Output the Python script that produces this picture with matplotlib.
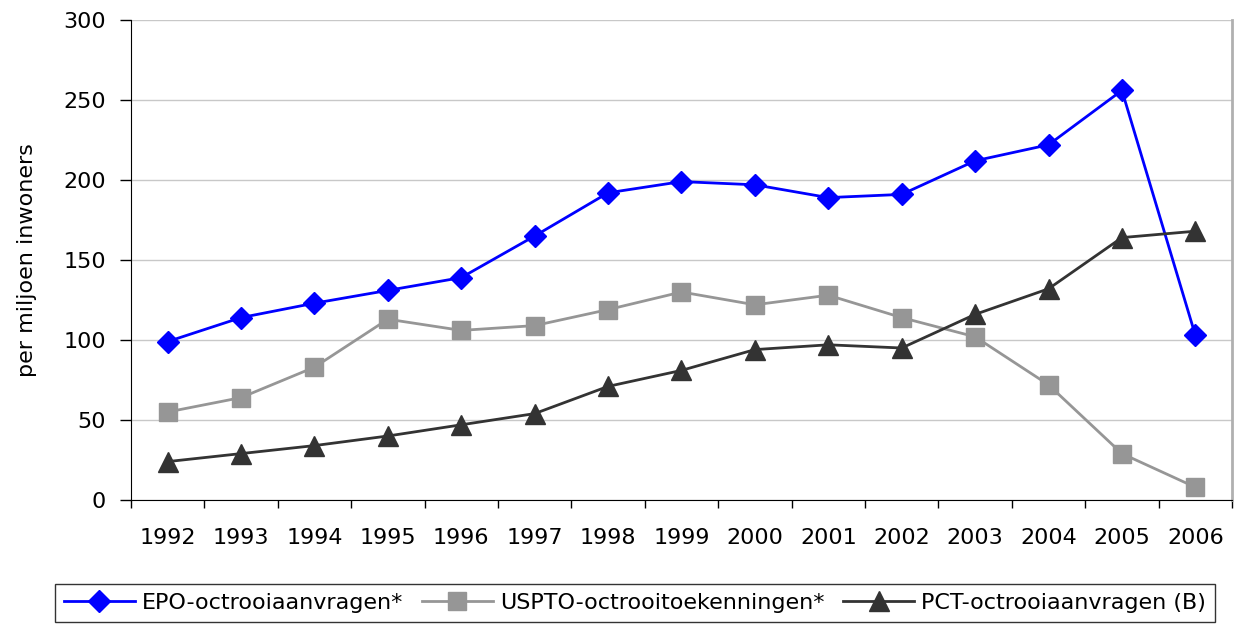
import numpy as np
from matplotlib import pyplot as plt

# Data
years = ['1992', '1993', '1994', '1995', '1996', '1997', '1998', '1999',
         '2000', '2001', '2002', '2003', '2004', '2005', '2006']
epo = [99, 114, 123, 131, 139, 165, 192, 199, 197, 189, 191, 212, 222, 256, 103]
uspto = [55, 64, 83, 113, 106, 109, 119, 130, 122, 128, 114, 102, 72, 29, 8]
pct = [24, 29, 34, 40, 47, 54, 71, 81, 94, 97, 95, 116, 132, 164, 168]

plt.rcParams['font.family'] = 'DejaVu Sans'
plt.rcParams['font.size'] = 16

fig = plt.figure(figsize=(12.35, 6.25), dpi=100)
ax = fig.add_axes([0.106, 0.2, 0.8916, 0.768])

x = np.arange(len(years))
ax.plot(x, epo, color='#0000ff', lw=2, marker='D', ms=11, label='EPO-octrooiaanvragen*')
ax.plot(x, uspto, color='#969696', lw=2, marker='s', ms=13, label='USPTO-octrooitoekenningen*')
ax.plot(x, pct, color='#333333', lw=2, marker='^', ms=14, label='PCT-octrooiaanvragen (B)')

ax.set_xlim(-0.5, len(years) - 0.5)
ax.set_ylim(0, 300)
ax.set_yticks(np.arange(0, 301, 50))
ax.set_xticks(x)
ax.set_xticklabels(years)
ax.set_xticks(np.arange(-0.5, len(years)), minor=True)
ax.tick_params(axis='x', which='major', length=0, pad=20)
ax.tick_params(axis='x', which='minor', length=6, width=1, direction='out')
ax.tick_params(axis='y', length=8, width=1, direction='out', pad=10)
ax.set_ylabel('per miljoen inwoners', labelpad=19)

ax.yaxis.grid(True, color='#c8c8c8', lw=1)
ax.set_axisbelow(True)
ax.spines['top'].set_visible(False)
ax.spines['right'].set_color('#b0b0b0')
ax.spines['right'].set_linewidth(2)

leg = fig.legend(loc='lower left', bbox_to_anchor=(0.0445, 0.005, 0.939, 0.072),
                 mode='expand', ncol=3, frameon=True, fancybox=False,
                 edgecolor='#000000', handlelength=3.2, handletextpad=0.3,
                 borderaxespad=0, fontsize=16, markerscale=1.0)
leg.get_frame().set_linewidth(1)

fig.savefig('out.png', dpi=100)
